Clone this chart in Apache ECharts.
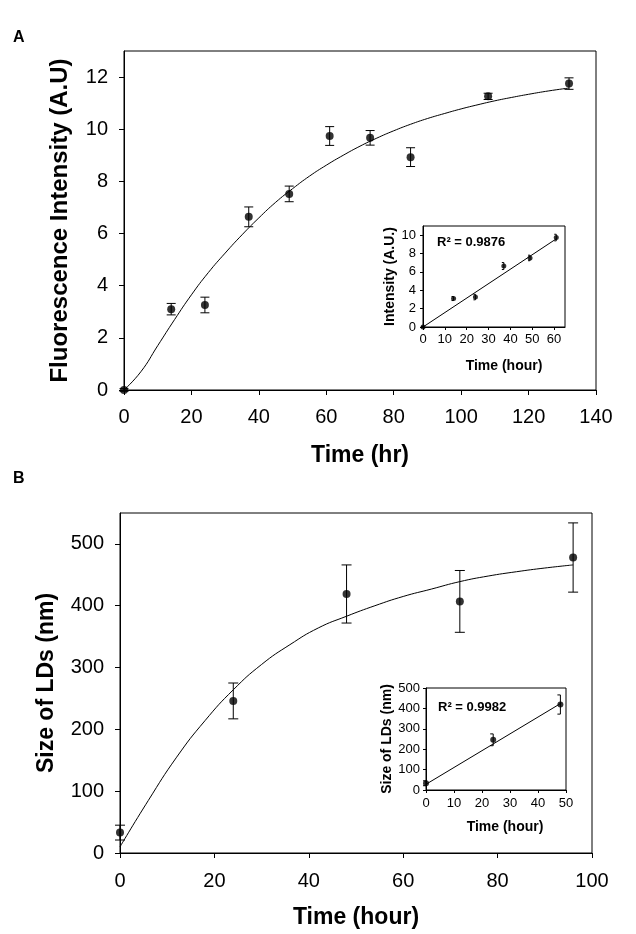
<!DOCTYPE html>
<html>
<head>
<meta charset="utf-8">
<script src="https://cdn.jsdelivr.net/npm/echarts@6/dist/echarts.min.js"></script>
<style>html,body{margin:0;padding:0;background:#fff;}#c{width:636px;height:934px;}</style>
</head>
<body>
<div id="c"></div>
<script>
// ---------- Panel A data ----------
const timeA = [0, 14, 24, 37, 49, 61, 73, 85, 108, 132];
const fluorA = [0, 3.1, 3.26, 6.64, 7.52, 9.74, 9.67, 8.93, 11.26, 11.75];
const errA = [0.05, 0.22, 0.3, 0.38, 0.3, 0.36, 0.28, 0.36, 0.12, 0.22];
// fitted curve
const fitAx = [0, 5, 10, 15, 20, 25, 30, 35, 40, 45, 50, 55, 60, 65, 70, 75, 80, 85, 90, 95, 100, 105, 110, 115, 120, 126, 132];
const fitAy = [0, 0.7, 1.7, 2.7, 3.65, 4.5, 5.25, 5.95, 6.6, 7.2, 7.72, 8.2, 8.62, 9.0, 9.35, 9.66, 9.94, 10.19, 10.41, 10.6, 10.78, 10.94, 11.09, 11.22, 11.34, 11.47, 11.58];
const insetAn = 6; // inset shows first 6 points
const regAx = [0, 61];
const regAy = [0, 9.6];
const r2A = 'R² = 0.9876';

// ---------- Panel B data ----------
const timeB = [0, 24, 48, 72, 96];
const sizeB = [33, 246, 419, 407, 478];
const errB = [12, 29, 47, 50, 56];
const fitBx = [0, 6, 12, 18, 24, 30, 36, 42, 48, 54, 60, 66, 72, 78, 84, 90, 96];
const fitBy = [10, 85, 155, 214, 264, 305, 337, 364, 383, 400, 415, 427, 439, 448, 455, 461, 466];
const insetBn = 3;
const regBx = [0, 48.3];
const regBy = [28, 426];
const r2B = 'R² = 0.9982';

// ---------- tick labels ----------
const ticksAx = [0, 20, 40, 60, 80, 100, 120, 140];
const ticksAy = [0, 2, 4, 6, 8, 10, 12];
const ticksAix = [0, 10, 20, 30, 40, 50, 60];
const ticksAiy = [0, 2, 4, 6, 8, 10];
const ticksBx = [0, 20, 40, 60, 80, 100];
const ticksBy = [0, 100, 200, 300, 400, 500];
const ticksBix = [0, 10, 20, 30, 40, 50];
const ticksBiy = [0, 100, 200, 300, 400, 500];

const FONT = "'Liberation Sans', Arial, sans-serif";
const pairs = (xs, ys) => xs.map((x, i) => [x, ys[i]]);
const triples = (xs, ys, es) => xs.map((x, i) => [x, ys[i], es[i]]);

function errRender(capL, capR) {
  return function (params, api) {
    const x = api.value(0), y = api.value(1), e = api.value(2);
    const p1 = api.coord([x, y + e]);
    const p2 = api.coord([x, y - e]);
    const st = { stroke: '#000', lineWidth: 1 };
    return {
      type: 'group',
      children: [
        { type: 'line', shape: { x1: p1[0], y1: p1[1], x2: p2[0], y2: p2[1] }, style: st },
        { type: 'line', shape: { x1: p1[0] - capL, y1: p1[1], x2: p1[0] + capR, y2: p1[1] }, style: st },
        { type: 'line', shape: { x1: p2[0] - capL, y1: p2[1], x2: p2[0] + capR, y2: p2[1] }, style: st }
      ]
    };
  };
}

function valAxis(opt) {
  const big = opt.big;
  return {
    type: 'value',
    gridIndex: opt.grid,
    min: opt.min, max: opt.max,
    name: opt.name,
    nameLocation: 'middle',
    nameGap: opt.nameGap,
    nameTextStyle: Object.assign({
      fontFamily: FONT, fontWeight: 'bold', fontSize: opt.nameSize, color: '#000'
    }, opt.namePad ? { padding: opt.namePad } : {}),
    axisLine: { show: true, onZero: false, lineStyle: { color: '#000', width: 1 } },
    axisTick: { show: true, inside: false, length: big ? 5 : 3, customValues: opt.ticks, lineStyle: { color: '#000', width: 1 } },
    axisLabel: { customValues: opt.ticks, margin: opt.margin, fontFamily: FONT, fontSize: big ? 20 : 13, color: '#000', showMinLabel: true, showMaxLabel: true },
    splitLine: { show: false }
  };
}

const chart = echarts.init(document.getElementById('c'), null, { renderer: 'canvas' });

const option = {
  animation: false,
  backgroundColor: '#fff',
  grid: [
    { left: 124, top: 51, width: 472, height: 339, show: true, borderColor: '#000', borderWidth: 1, backgroundColor: 'transparent' },
    { left: 423, top: 226, width: 142, height: 101, show: true, borderColor: '#000', borderWidth: 1, backgroundColor: 'transparent' },
    { left: 120, top: 513, width: 472, height: 340, show: true, borderColor: '#000', borderWidth: 1, backgroundColor: 'transparent' },
    { left: 426, top: 688, width: 140, height: 102, show: true, borderColor: '#000', borderWidth: 1, backgroundColor: 'transparent' }
  ],
  xAxis: [
    valAxis({ grid: 0, min: 0, max: 140, name: 'Time (hr)', nameGap: 54, nameSize: 23, ticks: ticksAx, margin: 17, big: true }),
    valAxis({ grid: 1, min: 0, max: 65, name: 'Time (hour)', nameGap: 32, nameSize: 14, ticks: ticksAix, margin: 6, big: false, namePad: [0, 0, 0, 20] }),
    valAxis({ grid: 2, min: 0, max: 100, name: 'Time (hour)', nameGap: 53, nameSize: 23, ticks: ticksBx, margin: 18, big: true }),
    valAxis({ grid: 3, min: 0, max: 50, name: 'Time (hour)', nameGap: 30, nameSize: 14, ticks: ticksBix, margin: 7, big: false, namePad: [0, 0, 0, 18] })
  ],
  yAxis: [
    valAxis({ grid: 0, min: 0, max: 13, name: 'Fluorescence Intensity (A.U)', nameGap: 52, nameSize: 24, ticks: ticksAy, margin: 16, big: true }),
    valAxis({ grid: 1, min: 0, max: 11, name: 'Intensity (A.U.)', nameGap: 26, nameSize: 14, ticks: ticksAiy, margin: 7, big: false }),
    valAxis({ grid: 2, min: 0, max: 550, name: 'Size of LDs (nm)', nameGap: 62, nameSize: 23, ticks: ticksBy, margin: 16, big: true }),
    valAxis({ grid: 3, min: 0, max: 500, name: 'Size of LDs (nm)', nameGap: 31, nameSize: 14, ticks: ticksBiy, margin: 6, big: false })
  ],
  series: [
    // Panel A main
    { type: 'line', xAxisIndex: 0, yAxisIndex: 0, data: pairs(fitAx, fitAy), smooth: 0.5, showSymbol: false, lineStyle: { color: '#000', width: 1 }, silent: true },
    { type: 'custom', xAxisIndex: 0, yAxisIndex: 0, data: triples(timeA, fluorA, errA), renderItem: errRender(4.5, 4.5), silent: true },
    { type: 'scatter', xAxisIndex: 0, yAxisIndex: 0, data: pairs(timeA, fluorA), symbolSize: 8, itemStyle: { color: '#000' }, silent: true },
    // Panel A inset
    { type: 'line', xAxisIndex: 1, yAxisIndex: 1, data: pairs(regAx, regAy), showSymbol: false, lineStyle: { color: '#000', width: 1 }, silent: true },
    { type: 'custom', xAxisIndex: 1, yAxisIndex: 1, data: triples(timeA.slice(0, insetAn), fluorA.slice(0, insetAn), errA.slice(0, insetAn)), renderItem: errRender(2, 0), silent: true },
    { type: 'scatter', xAxisIndex: 1, yAxisIndex: 1, data: pairs(timeA.slice(0, insetAn), fluorA.slice(0, insetAn)), symbolSize: 5, itemStyle: { color: '#000' }, silent: true },
    // Panel B main
    { type: 'line', xAxisIndex: 2, yAxisIndex: 2, data: pairs(fitBx, fitBy), smooth: 0.5, showSymbol: false, lineStyle: { color: '#000', width: 1 }, silent: true },
    { type: 'custom', xAxisIndex: 2, yAxisIndex: 2, data: triples(timeB, sizeB, errB), renderItem: errRender(5, 5), silent: true },
    { type: 'scatter', xAxisIndex: 2, yAxisIndex: 2, data: pairs(timeB, sizeB), symbolSize: 8, itemStyle: { color: '#000' }, silent: true },
    // Panel B inset
    { type: 'line', xAxisIndex: 3, yAxisIndex: 3, data: pairs(regBx, regBy), showSymbol: false, lineStyle: { color: '#000', width: 1 }, silent: true },
    { type: 'custom', xAxisIndex: 3, yAxisIndex: 3, data: triples(timeB.slice(0, insetBn), sizeB.slice(0, insetBn), errB.slice(0, insetBn)), renderItem: errRender(3, 0), silent: true },
    { type: 'scatter', xAxisIndex: 3, yAxisIndex: 3, data: pairs(timeB.slice(0, insetBn), sizeB.slice(0, insetBn)), symbolSize: 6, itemStyle: { color: '#000' }, silent: true }
  ],
  graphic: [
    { type: 'text', left: 13, top: 30, style: { text: 'A', font: "bold 16px " + FONT, fill: '#000' } },
    { type: 'text', left: 13, top: 471, style: { text: 'B', font: "bold 16px " + FONT, fill: '#000' } },
    { type: 'text', left: 437, top: 236, style: { text: r2A, font: "bold 13px " + FONT, fill: '#000' } },
    { type: 'text', left: 438, top: 701, style: { text: r2B, font: "bold 13px " + FONT, fill: '#000' } }
  ]
};
chart.setOption(option);
</script>
</body>
</html>
